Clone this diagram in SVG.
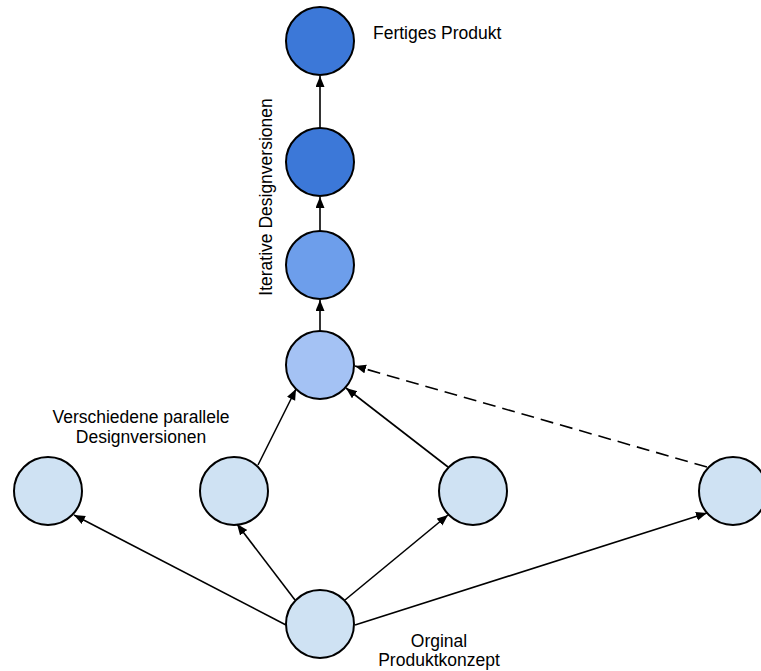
<svg xmlns="http://www.w3.org/2000/svg" width="761" height="671" viewBox="0 0 761 671">
<style>
.node{stroke:#000;stroke-width:2}
.e{stroke:#000;stroke-width:1.6;fill:none;marker-end:url(#ah)}
.d{stroke-dasharray:13,7}
.t{font-family:"Liberation Sans",Arial,sans-serif;font-size:17.5px;fill:#000}
</style>
<defs>
<marker id="ah" markerUnits="userSpaceOnUse" markerWidth="12" markerHeight="10" refX="11" refY="4.5" orient="auto">
<path d="M0,0 L11,4.5 L0,9 z" fill="#000"/>
</marker>
</defs>
<rect width="761" height="671" fill="#fff"/>
<g id="connectors">
<line class="e" x1="320" y1="128" x2="320" y2="76"/>
<line class="e" x1="320" y1="231" x2="320" y2="197"/>
<line class="e" x1="320" y1="331" x2="320" y2="300"/>
<line class="e" x1="258" y1="465" x2="296" y2="389"/>
<line class="e" x1="448" y1="467" x2="346" y2="388"/>
<line class="e d" x1="707" y1="467" x2="355" y2="366"/>
<line class="e" x1="286" y1="625" x2="74" y2="515"/>
<line class="e" x1="295" y1="600" x2="237" y2="524"/>
<line class="e" x1="345" y1="600" x2="448" y2="515"/>
<line class="e" x1="355" y1="625" x2="707" y2="513"/>
</g>
<g id="n1"><circle class="node" cx="320" cy="41" r="34" fill="#3c78d8"/></g>
<g id="n2"><circle class="node" cx="320" cy="162" r="34" fill="#3c78d8"/></g>
<g id="n3"><circle class="node" cx="320" cy="265" r="34" fill="#6d9eeb"/></g>
<g id="n4"><circle class="node" cx="320" cy="365" r="34" fill="#a4c2f4"/></g>
<g id="p1"><circle class="node" cx="48" cy="491" r="34" fill="#cfe2f3"/></g>
<g id="p2"><circle class="node" cx="234" cy="491" r="34" fill="#cfe2f3"/></g>
<g id="p3"><circle class="node" cx="473" cy="491" r="34" fill="#cfe2f3"/></g>
<g id="p4"><circle class="node" cx="733" cy="491" r="34" fill="#cfe2f3"/></g>
<g id="base"><circle class="node" cx="320" cy="624" r="34" fill="#cfe2f3"/></g>
<g id="labels">
<text class="t" x="373" y="39">Fertiges Produkt</text>
<text class="t" text-anchor="middle" transform="translate(272,197) rotate(-90)">Iterative  Designversionen</text>
<text class="t" text-anchor="middle" x="141" y="423">Verschiedene parallele</text>
<text class="t" text-anchor="middle" x="141" y="443">Designversionen</text>
<text class="t" text-anchor="middle" x="439" y="647">Orginal</text>
<text class="t" text-anchor="middle" x="439" y="666">Produktkonzept</text>
</g>
</svg>
